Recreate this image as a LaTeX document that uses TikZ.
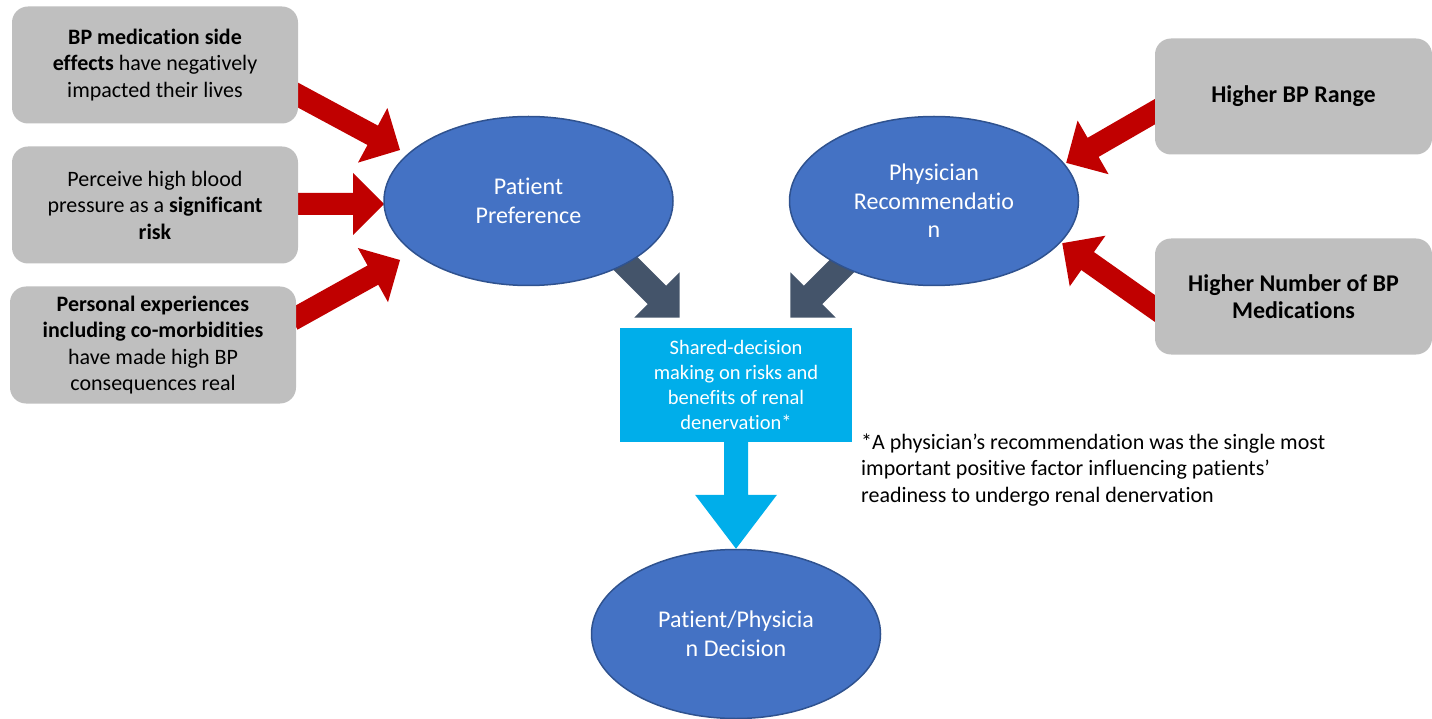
\documentclass[tikz,border=0pt]{standalone}
\usepackage{fontspec}
\setmainfont{Carlito}[Ligatures=NoCommon]
\usetikzlibrary{calc, positioning, shapes.geometric}
\definecolor{boxgray}{HTML}{BFBFBF}
\definecolor{ovalblue}{HTML}{4472C4}
\definecolor{ovalline}{HTML}{2F528F}
\definecolor{arrowred}{HTML}{C00000}
\definecolor{slate}{HTML}{44546A}
\definecolor{sharedblue}{HTML}{00AEEA}
\pgfdeclarelayer{bg}
\pgfsetlayers{bg,main}
\tikzset{
    factor/.style = {fill=boxgray, rounded corners=16pt, minimum width=286pt, minimum height=117pt, inner sep=0pt, align=center, font=\fontsize{22}{26.5}\selectfont}, % grey boxes on the left
    rfactor/.style = {factor, minimum width=277pt, minimum height=116pt, font=\fontsize{24}{27}\selectfont\bfseries}, % grey boxes on the right
    oval/.style = {ellipse, draw=ovalline, line width=1.5pt, fill=ovalblue, minimum width=289pt, minimum height=169pt, inner sep=0pt, align=center, text=white, font=\fontsize{24}{28.5}\selectfont},
    shared/.style = {fill=sharedblue, minimum width=232pt, minimum height=114pt, inner sep=0pt, align=center, text=white, font=\fontsize{20.5}{25.3}\selectfont},
    note/.style = {align=left, inner sep=0pt, font=\fontsize{22}{26.5}\selectfont},
    blockarrow/.style n args = {3}{% shaft width, head width, head length
        to path={let \p1=($(\tikztotarget)-(\tikztostart)$), \n1={atan2(\y1,\x1)}, \n2={veclen(\x1,\y1)} in
            ([shift={(\tikztostart)},rotate=\n1]0pt,#1/2)
            -- ([shift={(\tikztostart)},rotate=\n1]{\n2*1pt-#3},#1/2)
            -- ([shift={(\tikztostart)},rotate=\n1]{\n2*1pt-#3},#2/2)
            -- ([shift={(\tikztostart)},rotate=\n1]{\n2*1pt},0pt)
            -- ([shift={(\tikztostart)},rotate=\n1]{\n2*1pt-#3},-#2/2)
            -- ([shift={(\tikztostart)},rotate=\n1]{\n2*1pt-#3},-#1/2)
            -- ([shift={(\tikztostart)},rotate=\n1]0pt,-#1/2) -- cycle}},
    redarrow/.style = {fill=arrowred, blockarrow={22pt}{62pt}{31pt}},
    darkarrow/.style = {fill=slate, blockarrow={26pt}{64pt}{32pt}},
    downarrow/.style = {fill=sharedblue, blockarrow={24pt}{82pt}{54pt}}
}

\begin{document}
\begin{tikzpicture}[x=1pt, y=-1pt]
    \useasboundingbox (0,0) rectangle (1432,719);

    % factors on the patient side
    \node [factor] (side) at (155,65) {\textbf{BP medication side}\\\textbf{effects} have negatively\\impacted their lives};
    \node [factor] (risk) at (155,205) {Perceive high blood\\pressure as a \textbf{significant}\\\textbf{risk}};
    \node [factor] (pers) at (153,345) {\textbf{Personal experiences}\\\textbf{including co-morbidities}\\have made high BP\\consequences real};

    % factors on the physician side
    \node [rfactor] (range) at (1293.5,96.5) {Higher BP Range};
    \node [rfactor] (nmeds) at (1293.5,296.5) {Higher Number of BP\\Medications};

    \node [oval] (pref) at (528.5,201) {Patient\\Preference};
    \node [oval] (rec) at (934,201) {Physician\\Recommendatio\\n};
    \node [shared] (sdm) at (736,385) {Shared-decision\\making on risks and\\benefits of renal\\denervation*};
    \node [oval] (dec) at (736,634) {Patient/Physicia\\n Decision};

    \node [note, anchor=north west] (note) at (861,433.5) {*A physician’s recommendation was the single most\\important positive factor influencing patients’\\readiness to undergo renal denervation};

    \begin{pgfonlayer}{bg}
        \path [redarrow] ($(side.east)+(-6,27)$) to ($(pref.center)+(-128.5,-51)$);
        \path [redarrow] ($(risk.east)+(-6,-1)$) to ($(pref.center)+(-144.5,3)$);
        \path [redarrow] ($(pers.east)+(-4,-25)$) to ($(pref.center)+(-128.5,59)$);
        \path [redarrow] ($(range.west)+(6.5,11.5)$) to ($(rec.center)+(132,-38)$);
        \path [redarrow] ($(nmeds.west)+(6.5,16.5)$) to ($(rec.center)+(128,42)$);
        \path [darkarrow] ($(pref.center)+(76.5,42)$) to ($(sdm.north west)+(60,-10)$);
        \path [darkarrow] ($(rec.center)+(-69,42)$) to ($(sdm.north east)+(-62,-10)$);
        \path [downarrow] (sdm.south) to (dec.north);
    \end{pgfonlayer}
\end{tikzpicture}
\end{document}
